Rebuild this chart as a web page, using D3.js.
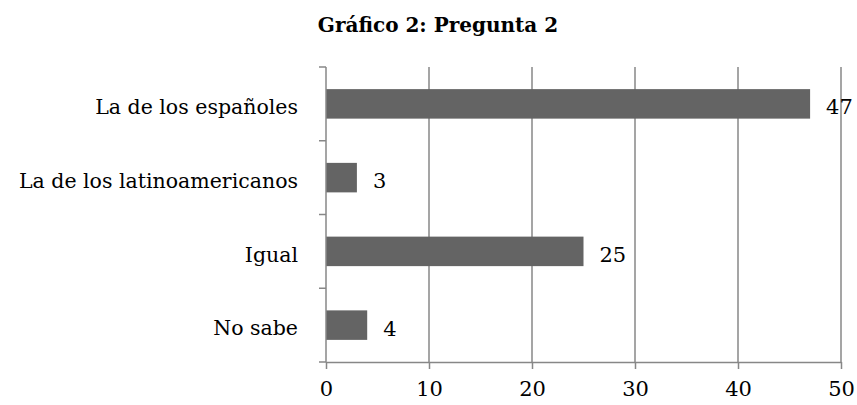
<!DOCTYPE html>
<html>
<head>
<meta charset="utf-8">
<script src="https://cdn.jsdelivr.net/npm/d3@7"></script>
<style>
  body { margin: 0; background: #fff; }
  text { font-family: "DejaVu Serif", serif; fill: #000; }
</style>
</head>
<body>
<div id="chart"></div>
<script>
const categories = ["La de los españoles", "La de los latinoamericanos", "Igual", "No sabe"];
const values = [47, 3, 25, 4];
const xTicks = [0, 10, 20, 30, 40, 50];
const title = "Gráfico 2: Pregunta 2";

const width = 857;
const height = 405;
const margin = { top: 67, right: 16, bottom: 43, left: 326 };
const labelSize = "20.5px";
const numberSize = "21px";
const lineColor = "#878787";

const svg = d3.select("#chart")
  .append("svg")
  .attr("width", width)
  .attr("height", height);

const x = d3.scaleLinear()
  .domain([0, 50])
  .range([margin.left, width - margin.right]);

const y = d3.scaleBand()
  .domain(categories)
  .range([margin.top, height - margin.bottom])
  .paddingInner(0.6)
  .paddingOuter(0.3);

const yBottom = height - margin.bottom;

// gridlines
svg.append("g")
  .selectAll("line")
  .data(xTicks.slice(1))
  .join("line")
  .attr("x1", d => x(d))
  .attr("x2", d => x(d))
  .attr("y1", margin.top)
  .attr("y2", yBottom)
  .attr("stroke", lineColor)
  .attr("stroke-width", 1.5);

// bars
svg.append("g")
  .selectAll("rect")
  .data(values)
  .join("rect")
  .attr("x", x(0))
  .attr("y", (d, i) => y(categories[i]))
  .attr("width", d => x(d) - x(0))
  .attr("height", y.bandwidth())
  .attr("fill", "#646464");

// value labels
svg.append("g")
  .selectAll("text")
  .data(values)
  .join("text")
  .attr("x", d => x(d) + 16)
  .attr("y", (d, i) => y(categories[i]) + y.bandwidth() / 2)
  .attr("dy", "0.5em")
  .style("font-size", numberSize)
  .text(d => d);

// y axis: line, boundary ticks and category labels
const bounds = d3.range(categories.length + 1).map(i => margin.top + i * (yBottom - margin.top) / categories.length);
const yAxis = svg.append("g");
yAxis.append("line")
  .attr("x1", x(0)).attr("x2", x(0))
  .attr("y1", margin.top).attr("y2", yBottom)
  .attr("stroke", lineColor).attr("stroke-width", 1.5);
yAxis.selectAll("line.tick")
  .data(bounds)
  .join("line")
  .attr("class", "tick")
  .attr("x1", x(0) - 7).attr("x2", x(0))
  .attr("y1", d => d).attr("y2", d => d)
  .attr("stroke", lineColor).attr("stroke-width", 1.5);
yAxis.selectAll("text")
  .data(categories)
  .join("text")
  .attr("x", x(0) - 28)
  .attr("y", d => y(d) + y.bandwidth() / 2)
  .attr("dy", "0.5em")
  .attr("text-anchor", "end")
  .style("font-size", labelSize)
  .text(d => d);

// x axis
const xAxis = svg.append("g")
  .attr("transform", `translate(0,${yBottom})`)
  .call(d3.axisBottom(x).tickValues(xTicks).tickSize(7).tickPadding(12).tickSizeOuter(0));
xAxis.select(".domain").attr("stroke", lineColor).attr("stroke-width", 1.5);
xAxis.selectAll(".tick line").attr("stroke", lineColor).attr("stroke-width", 1.5);
xAxis.selectAll(".tick text")
  .style("font-family", "'DejaVu Serif', serif")
  .style("font-size", numberSize)
  .attr("fill", "#000");

// title
svg.append("text")
  .attr("x", 438)
  .attr("y", 32)
  .attr("text-anchor", "middle")
  .style("font-size", "20px")
  .style("font-weight", "bold")
  .text(title);
</script>
</body>
</html>
